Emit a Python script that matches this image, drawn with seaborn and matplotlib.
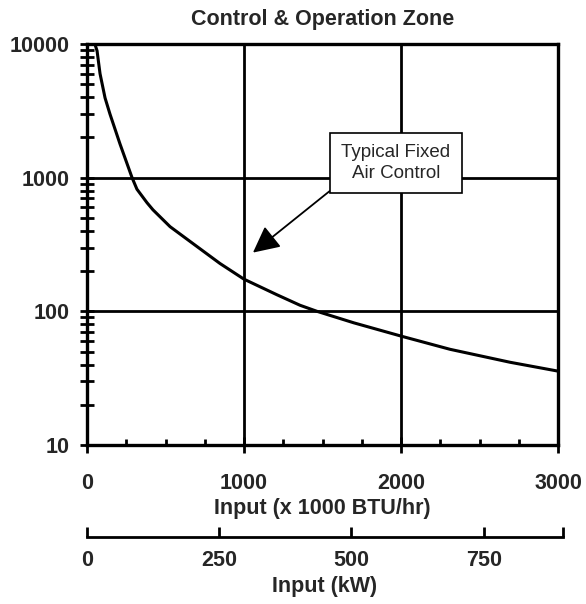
import numpy as np
import pandas as pd
import seaborn as sns
import matplotlib.pyplot as plt
from matplotlib.ticker import LogLocator, NullFormatter, FixedLocator

# Curve (input in 1000 BTU/hr)
btu_input = [50, 64, 83, 115, 146, 210, 287, 318, 382, 420, 529, 677, 847,
             1000, 1210, 1357, 1465, 1700, 2006, 2312, 2694, 3000]
zone_value = [10000, 8900, 6000, 3950, 3000, 1790, 1000, 820, 650, 575, 430,
              320, 228, 174, 133, 111, 100, 82, 65, 52, 41.6, 35.7]

btu_ticks = [0, 1000, 2000, 3000]
kw_ticks = [0, 250, 500, 750, 900]
kw_labels = ['0', '250', '500', '750', '']
y_ticks = [10, 100, 1000, 10000]

df = pd.DataFrame({'input': btu_input, 'value': zone_value})

sns.set_style('white')
plt.rcParams['font.family'] = ['Liberation Sans', 'DejaVu Sans']
FS = 15.5

fig = plt.figure(figsize=(5.86, 6.04), dpi=100)
ax = fig.add_axes([87 / 586, 1 - 445 / 604, 471 / 586, 401 / 604])

sns.lineplot(data=df, x='input', y='value', ax=ax, color='black', linewidth=2.2)

ax.set_yscale('log')
ax.set_xlim(0, 3000)
ax.set_ylim(10, 10000)

ax.set_xticks(btu_ticks)
ax.set_xticklabels([str(t) for t in btu_ticks], fontweight='bold', fontsize=FS)
ax.xaxis.set_minor_locator(FixedLocator([250, 500, 750, 1250, 1500, 1750,
                                         2250, 2500, 2750]))
ax.set_yticks(y_ticks)
ax.set_yticklabels([str(t) for t in y_ticks], fontweight='bold', fontsize=FS)
ax.yaxis.set_minor_locator(LogLocator(base=10, subs=np.arange(2, 10)))
ax.yaxis.set_minor_formatter(NullFormatter())

ax.grid(True, which='major', color='black', linewidth=2)
for s in ax.spines.values():
    s.set_color('black')
    s.set_linewidth(2.4)

ax.tick_params(which='both', bottom=True, left=True)
ax.tick_params(axis='y', which='both', direction='inout', length=10,
               width=2, color='black', pad=7.5)
ax.tick_params(axis='x', which='major', direction='inout', length=12,
               width=2, color='black', pad=14)
ax.tick_params(axis='x', which='minor', direction='in', length=4.5,
               width=2, color='black')

ax.set_xlabel('Input (x 1000 BTU/hr)', fontweight='bold', fontsize=FS,
              labelpad=3)
ax.set_ylabel('')
ax.set_title('Control & Operation Zone', fontweight='bold', fontsize=FS,
             pad=13.5)

ax.annotate('Typical Fixed\nAir Control', xy=(1057, 275), xytext=(1968, 1294),
            ha='center', va='center', fontsize=13.5, linespacing=1.3,
            bbox=dict(boxstyle='square,pad=0.6', fc='white', ec='black', lw=1.2),
            arrowprops=dict(arrowstyle='-|>,head_length=0.9,head_width=0.45',
                            color='black', lw=1.3, mutation_scale=18,
                            relpos=(0, 0), shrinkA=0, shrinkB=0))

# second scale in kW
ax2 = fig.add_axes([87 / 586, 1 - 537 / 604, 476 / 586, 0.0001])
ax2.set_xlim(0, 900)
ax2.set_yticks([])
ax2.set_xticks(kw_ticks)
ax2.set_xticklabels(kw_labels, fontweight='bold', fontsize=FS)
for side in ['top', 'left', 'right']:
    ax2.spines[side].set_visible(False)
ax2.spines['bottom'].set_color('black')
ax2.spines['bottom'].set_linewidth(2)
ax2.tick_params(axis='x', bottom=True, direction='in', length=7, width=2,
                color='black', pad=9)
ax2.set_xlabel('Input (kW)', fontweight='bold', fontsize=FS, labelpad=4)
ax2.patch.set_alpha(0)

fig.savefig('out.png', dpi=100)
